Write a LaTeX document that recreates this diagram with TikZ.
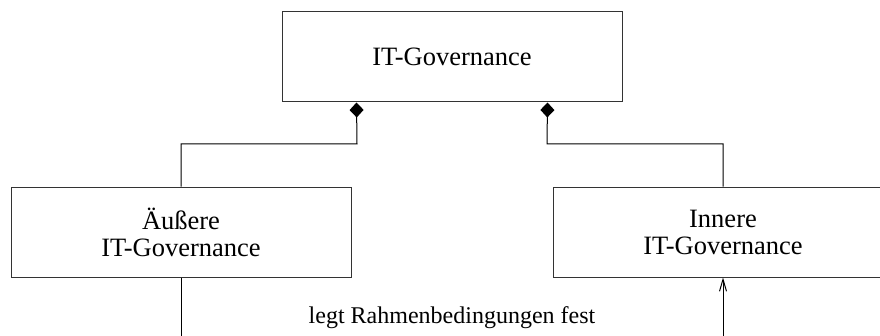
\documentclass[tikz,border=0pt]{standalone}
\usepackage{fontspec}
\setmainfont{Liberation Serif}
\usetikzlibrary{arrows.meta}

\tikzset{
  classbox/.style={draw=black!80, line width=1pt, minimum width=340pt, minimum height=90pt,
    inner sep=0pt, align=center, font=\fontsize{26.5}{27}\selectfont},
  composition/.style={draw=black, line width=1pt, -{Diamond[length=15pt,width=14pt]}},
  dependency/.style={draw=black, line width=1pt, -{Straight Barb[length=12pt,width=7pt,line width=1pt]}},
  linklabel/.style={font=\fontsize{24}{26}\selectfont, anchor=base, inner sep=0pt}
}

\begin{document}
\begin{tikzpicture}[x=1pt,y=1pt]
  \clip (0,0) rectangle (880,335);

  % classes
  \node[classbox] (gov) at (452,278) {IT-Governance};
  \node[classbox] (outer) at (181,103) {Äußere\\IT-Governance};
  \node[classbox] (inner) at (723,103) {Innere\\IT-Governance};

  % composition links into the whole
  \coordinate (govL) at ([xshift=75pt]gov.south west);
  \coordinate (govR) at ([xshift=-75pt]gov.south east);
  \draw[composition] (outer.north) |- (357,191) -- (govL);
  \draw[composition] (inner.north) |- (547,191) -- (govR);

  % dependency link running below the visible area
  \coordinate (below) at (452,-40);
  \draw[dependency] (outer.south) |- (below) -| (inner.south);
  \node[linklabel] (rules) at (452,12) {legt Rahmenbedingungen fest};
\end{tikzpicture}
\end{document}
